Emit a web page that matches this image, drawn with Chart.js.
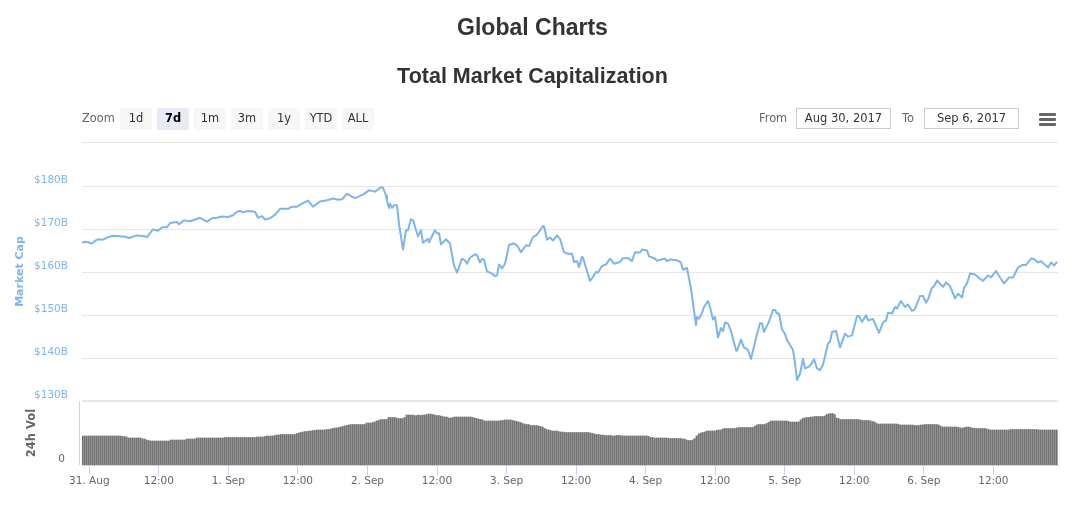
<!DOCTYPE html>
<html><head><meta charset="utf-8">
<script src="https://cdn.jsdelivr.net/npm/chart.js@4"></script>
<style>
html,body{margin:0;padding:0;background:#fff;overflow:hidden}
#wrap{position:relative;width:1085px;height:507px}
canvas{position:absolute;left:0;top:0}
.t{position:absolute;left:0;width:1065px;text-align:center;font-family:"Liberation Sans",sans-serif;font-weight:bold;color:#333;white-space:nowrap}
.u{position:absolute;font-family:"DejaVu Sans",sans-serif;white-space:nowrap;box-sizing:border-box}
.b{top:108px;height:22px;width:32px;line-height:20px;text-align:center;background:#f7f7f7;border-radius:2px;color:#333;font-size:11.4px}
.b.on{background:#e6ebf5;font-weight:bold;color:#000}
.l{top:109px;line-height:18px;color:#666;font-size:11.4px}
.i{top:108px;height:21px;width:95px;border:1px solid #ccc;line-height:18px;text-align:center;color:#333;font-size:11.5px}
.h{position:absolute;left:1039px;width:17px;height:3px;background:#666;border-radius:1px}
</style></head>
<body><div id="wrap">
<canvas id="c" width="1085" height="507"></canvas>
<div class="t" style="top:13px;font-size:23px;line-height:28px">Global Charts</div>
<div class="t" style="top:62px;font-size:21.5px;line-height:28px">Total Market Capitalization</div>
<div class="u l" style="left:82px">Zoom</div>
<div class="u b" style="left:120px">1d</div>
<div class="u b on" style="left:157px">7d</div>
<div class="u b" style="left:194px">1m</div>
<div class="u b" style="left:231px">3m</div>
<div class="u b" style="left:268px">1y</div>
<div class="u b" style="left:305px">YTD</div>
<div class="u b" style="left:342px">ALL</div>
<div class="u l" style="left:759px">From</div>
<div class="u i" style="left:796px">Aug 30, 2017</div>
<div class="u l" style="left:902px">To</div>
<div class="u i" style="left:924px">Sep 6, 2017</div>
<div class="h" style="top:113px"></div><div class="h" style="top:118px"></div><div class="h" style="top:123px"></div>
</div>
<script>
// hours after 31 Aug 2017 00:00
const capHours=[-1.26,-0.74,-0.22,0.41,0.98,1.5,2.36,3.23,4.09,5.3,6.16,6.85,8.23,9.61,9.96,10.99,11.85,12.55,13.41,13.93,15.13,15.48,16.34,17.38,19.1,20.31,21.17,22.04,22.9,23.93,24.8,25.49,26,26.52,27.39,28.6,29.12,29.8,30.32,31.18,32.05,32.91,34.29,34.98,35.84,36.88,37.74,38.6,39.81,41.02,42.05,42.92,43.6,44.47,45.85,47.23,48.26,49.3,50.33,50.68,51.2,51.37,51.71,51.89,52.23,52.58,53.1,53.44,54.13,54.65,55,55.51,55.86,56.72,57.24,57.58,58.45,58.62,59.65,60,60.35,60.69,61.55,62.24,62.93,63.45,64.31,64.83,65.18,65.7,66.56,66.91,67.42,67.77,68.11,68.63,69.49,70.01,70.36,70.7,71.22,71.74,72.43,73.29,73.81,74.5,75.36,75.88,76.57,77.26,78.29,78.47,78.98,79.5,80.02,80.71,81.22,81.91,82.6,83.29,83.64,84.16,84.5,85.02,85.19,86.4,86.92,87.43,87.78,88.47,89.16,89.85,90.54,91.58,92.09,92.96,93.65,94.17,95.03,95.38,96.24,96.58,97.62,97.96,99.34,99.69,100.2,101.41,102.1,102.45,103.14,103.83,104.69,104.87,105.21,105.73,106.07,106.76,107.11,107.62,107.97,108.49,109,109.35,109.7,110.21,110.73,111.59,111.76,112.45,112.97,113.66,114.18,115.04,115.73,116.08,116.43,117.29,117.98,118.33,118.67,119.02,119.54,120.05,120.4,121.43,121.78,122.13,122.65,123.16,123.51,124.2,124.55,125.06,125.58,126.1,126.61,127.48,127.82,128.17,128.86,129.55,130.41,130.93,131.62,132.48,132.83,133.34,134.03,134.38,135.24,136.28,136.97,137.48,137.83,138.52,139.04,139.38,140.07,140.76,141.27,141.96,142.48,143.34,143.86,144.39,144.73,145.42,145.77,146.28,147.32,147.84,148.53,149.39,149.91,150.6,150.94,151.46,151.98,152.84,153.71,154.22,155.09,155.6,156.47,157.16,157.85,158.71,159.4,160.27,160.96,161.65,162.51,163.03,163.72,164.24,165.45,165.97,166.49,167];
// market cap, $B
const capValues=[166.9,167.1,167,166.7,167.3,167.7,167.6,168.2,168.5,168.4,168.3,168,168.6,168.4,168.2,170,169.7,170.5,170.5,171.5,171.7,171.2,172.1,171.9,172.7,171.8,172.6,172.7,173,172.9,173.3,174.1,174.3,174,174.3,174.1,172.7,173.1,172.3,172.6,173.4,174.8,174.8,175.3,175.3,176.1,176.7,175.3,176.5,176.8,177.2,176.9,177,178.3,177.3,178.1,179.1,178.8,179.8,179.7,177.9,176.7,175,176,175,175.6,175.6,171.3,165.3,169.8,169.8,172.4,172.1,168.4,169.8,166.9,167.8,167,169.8,169.1,169.1,166.5,167.7,166.7,161.6,159.9,163.2,162.8,162,163.4,164.2,164,162.3,163.1,163,160.2,159.7,159.1,159.3,161.8,160.9,162,166.4,166.7,166.3,164.7,166.3,166.1,168.2,168.8,170.8,170.7,167.6,168.1,167.4,168.6,167.8,164.7,164.3,164.3,162.4,162.6,161.2,163.6,163.4,158,158.9,160.1,159.9,161.5,161.8,163.2,162,162.4,163.3,163.3,162.6,164.7,164.6,165.3,165.1,163.7,163.2,162.7,163.2,162.6,163,162.8,162.3,160.6,161,156.2,147.7,149.6,149.2,150.5,151.9,153.3,151.9,149,149.6,144.8,147,146.3,148.3,148.1,146.3,141.9,141.7,144.3,142.5,141.9,139.8,144.6,148.1,148.1,146.1,148.5,151.2,151.2,150.4,150.4,146.7,145.6,144.2,141.9,138.8,134.9,136.4,139.8,137.6,138,138.6,139.7,137.6,137.2,138.5,143.4,143.8,146.1,146.3,142.5,145.7,145,145.3,149.8,149.8,148.4,150,148.8,149.1,145.9,148.4,148.7,150.6,150.4,151.9,151.6,153.3,151.9,152.5,151,151.4,154.5,154.5,152.9,153.7,156.4,156.7,158.1,156.6,157.6,156.8,153.9,155,154.1,156.4,157.4,159.7,159.5,158.5,158,159.3,158.8,160.3,158.8,157.4,158.8,158.8,161.1,161.7,161.7,163.2,163.1,162.3,162.6,161.1,162.3,161.6,162.4];
// 24h volume, $B
const volValues=[5.8,5.8,5.8,5.8,5.8,5.8,5.8,5.8,5.8,5.8,
5.8,5.8,5.8,5.8,5.8,5.8,5.8,5.8,5.8,5.8,
5.7,5.7,5.6,5.4,5.4,5.4,5.4,5.4,5.4,5.4,
5.2,5.2,5,4.9,4.8,4.8,4.8,4.8,4.8,4.8,
4.8,4.8,4.8,4.8,5,5,5,5,5,5,
5,5,5.2,5.2,5.2,5.2,5.2,5.4,5.4,5.4,5.4,
5.4,5.4,5.4,5.4,5.4,5.4,5.4,5.4,5.4,5.4,
5.5,5.5,5.5,5.5,5.5,5.5,5.5,5.5,5.5,5.5,
5.5,5.5,5.5,5.5,5.5,5.5,5.6,5.6,5.6,5.6,
5.7,5.8,5.8,5.8,5.8,5.9,6,6,6.1,6.1,
6.1,6.1,6.1,6.1,6.1,6.1,6.3,6.4,6.5,6.6,
6.7,6.7,6.8,6.8,6.9,6.9,7,7,7,7,7,
7.1,7.1,7.2,7.3,7.4,7.4,7.5,7.6,7.7,7.8,
7.9,8,8.1,8.1,8.1,8.1,8.1,8.1,8.1,8.1,
8.4,8.4,8.4,8.5,8.6,8.8,8.9,9.1,9.1,9.1,
9.1,9.5,9.5,9.5,9.5,9.4,9.3,9.3,9.3,9.5,
10,10,10,10,9.9,9.9,10,9.9,10,10,
10.1,10.2,10.2,10.1,10,9.9,9.9,9.8,9.7,9.6,9.6,
9.4,9.4,9.5,9.6,9.6,9.6,9.6,9.6,9.6,9.6,
9.6,9.6,9.5,9.4,9.3,9.2,9.1,9,8.8,8.8,
8.8,8.8,8.8,8.8,8.8,8.8,8.9,8.9,9,9,
9,9,8.9,8.8,8.7,8.6,8.5,8.3,8.2,8.1,
8.1,7.9,7.9,7.9,7.9,7.8,7.7,7.6,7.3,7.1,
7,6.9,6.8,6.8,6.8,6.7,6.6,6.6,6.5,6.5,6.5,
6.5,6.5,6.5,6.5,6.5,6.5,6.5,6.5,6.5,6.5,
6.4,6.3,6.2,6.1,6.1,6,6,5.9,5.9,5.9,
5.9,5.8,5.8,5.9,5.9,5.9,5.8,5.8,5.8,5.8,
5.8,5.8,5.8,5.8,5.8,5.8,5.8,5.8,5.8,5.7,
5.5,5.5,5.4,5.4,5.4,5.4,5.4,5.4,5.4,5.3,
5.3,5.3,5.3,5.3,5.3,5.3,5.2,5.2,5,4.9,4.9,
5,5.3,5.8,6.2,6.4,6.5,6.6,6.8,6.8,6.8,
6.8,6.8,6.9,7,7,7.2,7.3,7.3,7.3,7.3,
7.3,7.3,7.4,7.5,7.5,7.5,7.5,7.5,7.5,7.5,
7.5,7.7,8,8.1,8.1,8.1,8.1,8.3,8.5,8.8,
8.8,8.8,8.8,8.8,8.8,8.8,8.8,8.8,8.7,8.6,
8.6,8.6,8.6,8.6,9,9.3,9.4,9.5,9.5,9.6,9.6,
9.7,9.7,9.7,9.7,9.7,9.8,10.1,10.2,10.3,10.3,
10.1,9.4,9.3,9.1,9.1,9.1,9.1,9.1,9.1,9.1,
9.1,9.1,9.1,9,8.9,8.9,8.9,8.9,8.8,8.7,
8.6,8.3,8.2,8.2,8.2,8.2,8.2,8.2,8.2,8.2,
8.2,8.2,8.1,8,8,8,8,8,8,8,
7.9,7.9,7.9,8,8,8.1,8.1,8.1,8.1,8.1,8.1,
8.1,8,7.8,7.6,7.6,7.6,7.6,7.6,7.6,7.6,
7.6,7.5,7.4,7.4,7.5,7.6,7.6,7.5,7.4,7.3,
7.3,7.3,7.3,7.3,7.3,7.2,7.1,7,7,7,
7,7,7,7,7,7,7,7.1,7.1,7.1,
7.1,7.1,7.1,7.1,7.1,7.1,7.1,7.1,7.1,7.1,
7.1,7,7,7,7,7,7,7,7,7,7];
const volStartHour=-1.1478, volStepHours=0.34512;
const xTickHours=[0,12,24,36,48,60,72,84,96,108,120,132,144,156];
const xTickLabels=['31. Aug','12:00','1. Sep','12:00','2. Sep','12:00','3. Sep','12:00','4. Sep','12:00','5. Sep','12:00','6. Sep','12:00'];
const capTickValues=[130,140,150,160,170,180,190.37];
const capTickLabels=['$130B','$140B','$150B','$160B','$170B','$180B',''];

const FONT='"DejaVu Sans",sans-serif';
const labelUp=s=>[s,''];   // empty second line lifts the label above its grid line
const volAxisLine={id:'volAxisLine',afterDatasetsDraw(ch){
  const s=ch.scales.yVol,c=ch.ctx;c.save();c.strokeStyle='#ccd6eb';c.lineWidth=1;
  c.beginPath();c.moveTo(s.right-2.5,s.top);c.lineTo(s.right-2.5,s.bottom);c.stroke();c.restore();}};

new Chart(document.getElementById('c'),{
  type:'bar',
  plugins:[volAxisLine],
  data:{datasets:[
    {type:'line',label:'Market Cap',xAxisID:'x',yAxisID:'yCap',
     data:capHours.map((h,i)=>({x:h,y:capValues[i]})),
     borderColor:'#7cb5ec',borderWidth:2,pointRadius:0,tension:0,borderJoinStyle:'round'},
    {type:'bar',label:'24h Vol',xAxisID:'x',yAxisID:'yVol',
     data:volValues.map((v,i)=>({x:volStartHour+i*volStepHours,y:v})),
     backgroundColor:'#707070',borderWidth:0,barThickness:1.3}
  ]},
  options:{
    responsive:false,animation:false,devicePixelRatio:1,
    layout:{padding:{top:142,right:27,left:0,bottom:0}},
    plugins:{legend:{display:false},tooltip:{enabled:false},title:{display:false}},
    events:[],
    scales:{
      x:{type:'linear',min:-1.26,max:167.16,offset:false,
        grid:{offset:false,drawOnChartArea:false,drawTicks:true,tickLength:10,color:'#ccd6eb'},
        border:{color:'#ccd6eb'},
        afterBuildTicks:s=>{s.ticks=xTickHours.map(v=>({value:v}));},
        afterFit:s=>{s.height=42;},
        ticks:{autoSkip:false,maxRotation:0,color:'#666',padding:0,
          font:{family:FONT,size:10.5},
          callback:v=>xTickLabels[xTickHours.indexOf(v)]}
      },
      yCap:{type:'linear',position:'left',stack:'p',stackWeight:259,weight:1,min:130,max:190.37,
        grid:{color:'#e6e6e6',drawTicks:false,lineWidth:c=>c.tick&&c.tick.value===130?2:1},
        border:{display:false},
        afterBuildTicks:s=>{s.ticks=capTickValues.map(v=>({value:v}));},
        afterFit:s=>{s.width=82;},
        title:{display:true,text:'Market Cap',color:'#7cb5ec',font:{family:FONT,size:11,weight:'bold'},padding:{top:14,bottom:0}},
        ticks:{autoSkip:false,color:'#7cb5ec',padding:14,font:{family:FONT,size:10.5,lineHeight:1.15},
          callback:v=>{const s=capTickLabels[capTickValues.indexOf(v)];return s?labelUp(s):'';}}
      },
      yVol:{type:'linear',position:'left',stack:'p',stackWeight:64,weight:0,min:0,max:12.8,
        grid:{display:false,drawTicks:false},
        border:{display:false},
        afterBuildTicks:s=>{s.ticks=[{value:0}];},
        afterFit:s=>{s.width=82;},
        title:{display:true,text:'24h Vol',color:'#666',font:{family:FONT,size:11.5,weight:'bold'},padding:{top:25,bottom:0}},
        ticks:{autoSkip:false,color:'#666',padding:17,font:{family:FONT,size:10.5,lineHeight:1.15},
          callback:v=>labelUp(String(v))}
      }
    }
  }
});
</script></body></html>
